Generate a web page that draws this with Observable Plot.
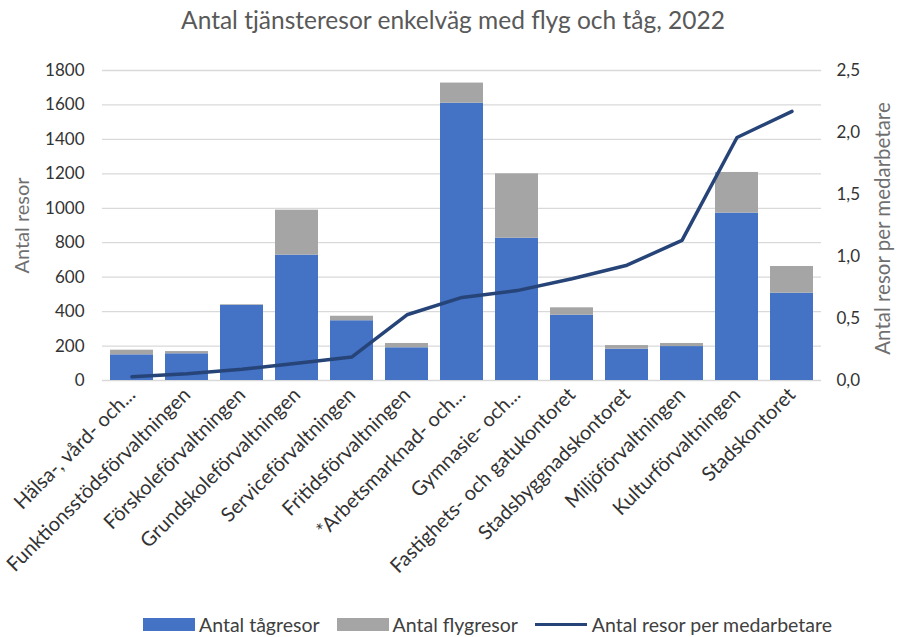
<!DOCTYPE html>
<html>
<head>
<meta charset="utf-8">
<script src="https://cdn.jsdelivr.net/npm/d3@7"></script>
<script src="https://cdn.jsdelivr.net/npm/@observablehq/plot@0.6"></script>
<style>
  body { margin: 0; background: #fff; font-family: Lato, "Open Sans", sans-serif; }
  #wrap { width: 898px; height: 637px; position: relative; overflow: hidden; }
  #title { height: 40px; line-height: 40px; text-align: center; font-size: 24.5px; color: #595959; padding-left: 8px; }
  #legend { position: absolute; left: 143px; top: 612px; display: flex; align-items: center; height: 24px; font-size: 19.5px; color: #404040; white-space: nowrap; }
  .item { display: flex; align-items: center; margin-right: 17px; }
  .sw { width: 52px; height: 13px; margin-right: 4px; }
  .ln { width: 52px; height: 3px; margin-right: 5px; }
</style>
</head>
<body>
<div id="wrap">
  <div id="title">Antal tjänsteresor enkelväg med flyg och tåg, 2022</div>
  <div id="chart"></div>
  <div id="legend"></div>
</div>
<script>
const categories = [
  "Hälsa-, vård- och...",
  "Funktionsstödsförvaltningen",
  "Förskoleförvaltningen",
  "Grundskoleförvaltningen",
  "Serviceförvaltningen",
  "Fritidsförvaltningen",
  "*Arbetsmarknad- och...",
  "Gymnasie- och...",
  "Fastighets- och gatukontoret",
  "Stadsbyggnadskontoret",
  "Miljöförvaltningen",
  "Kulturförvaltningen",
  "Stadskontoret"
];
const tagresor = [149, 155, 436, 728, 347, 190, 1610, 826, 379, 182, 197, 972, 507];
const flygresor = [27, 13, 4, 261, 26, 25, 117, 374, 43, 21, 18, 236, 155];
const resorPerMedarbetare = [0.03, 0.055, 0.09, 0.14, 0.19, 0.53, 0.67, 0.725, 0.82, 0.93, 1.13, 1.96, 2.17];
const leftTicks = [0, 200, 400, 600, 800, 1000, 1200, 1400, 1600, 1800];
const rightTicks = [0, 0.5, 1, 1.5, 2, 2.5];
const seriesNames = ["Antal tågresor", "Antal flygresor", "Antal resor per medarbetare"];
const colors = ["#4472C4", "#A5A5A5", "#264478"];

const yMax = 1800, y2Max = 2.5, k = yMax / y2Max;

const stacked = [];
categories.forEach((c, i) => {
  stacked.push({cat: c, serie: seriesNames[0], value: tagresor[i]});
  stacked.push({cat: c, serie: seriesNames[1], value: flygresor[i]});
});
const lineData = categories.map((c, i) => ({cat: c, v: resorPerMedarbetare[i]}));

const chart = Plot.plot({
  width: 898,
  height: 572,
  marginTop: 30,
  marginBottom: 232,
  marginLeft: 102,
  marginRight: 77,
  style: {fontFamily: "Lato, 'Open Sans', sans-serif", fontSize: "17px", color: "#404040", background: "#fff"},
  x: {domain: categories, paddingInner: 0.22, paddingOuter: 0.12},
  y: {domain: [0, yMax]},
  color: {domain: seriesNames.slice(0, 2), range: colors.slice(0, 2)},
  marks: [
    Plot.gridY(leftTicks, {stroke: "#d9d9d9", strokeOpacity: 1, strokeWidth: 1.3}),
    Plot.barY(stacked, {x: "cat", y: "value", fill: "serie"}),
    Plot.line(lineData, {x: "cat", y: d => d.v * k, stroke: colors[2], strokeWidth: 3.5, strokeLinecap: "round"}),
    Plot.axisY(leftTicks, {anchor: "left", tickSize: 0, tickPadding: 18, tickFormat: d => String(d), label: null, fill: "#333"}),
    Plot.axisY(rightTicks.map(v => v * k), {anchor: "right", tickSize: 0, tickPadding: 15,
      tickFormat: d => (d / k).toFixed(1).replace(".", ","), label: null, fill: "#333"}),
    Plot.axisX({tickSize: 0, tickRotate: -45, tickPadding: 11, label: null, fill: "#333", fontSize: 20}),
    Plot.text(["Antal resor"], {frameAnchor: "left", dx: -80, rotate: -90, textAnchor: "middle", lineAnchor: "middle", fontSize: 20, fill: "#6f6f6f"}),
    Plot.text(["Antal resor per medarbetare"], {frameAnchor: "right", dx: 62, dy: 3, rotate: -90, textAnchor: "middle", lineAnchor: "middle", fontSize: 20.5, fill: "#6f6f6f"})
  ]
});
document.getElementById("chart").appendChild(chart);

const legend = document.getElementById("legend");
seriesNames.forEach((n, i) => {
  const it = document.createElement("div");
  it.className = "item";
  const sw = document.createElement("div");
  sw.className = i < 2 ? "sw" : "ln";
  sw.style.background = colors[i];
  it.appendChild(sw);
  const t = document.createElement("span");
  t.textContent = n;
  it.appendChild(t);
  legend.appendChild(it);
});
</script>
</body>
</html>
